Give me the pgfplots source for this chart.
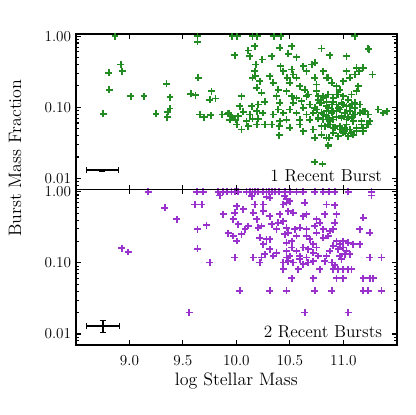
\documentclass[border=0pt]{standalone}
\usepackage{pgfplots}
\usepackage{pgfplotstable}
\pgfplotsset{compat=1.18}

\definecolor{burstgreen}{RGB}{34,139,34}
\definecolor{burstpurple}{RGB}{153,50,204}

% one recent burst: log stellar mass, burst mass fraction
\pgfplotstableread{
x y
8.865 1.0
9.637 1.0
9.961 1.0
10.008 1.0
10.151 1.0
10.195 1.0
10.350 1.0
10.416 1.0
11.108 1.0
9.637 0.833
9.986 0.541
10.111 0.629
10.126 0.524
10.173 0.724
10.242 0.470
10.329 0.524
10.407 0.686
10.485 0.565
10.516 0.724
10.562 0.507
10.796 0.671
10.874 0.541
11.030 0.524
11.232 0.671
11.238 0.650
8.918 0.399
8.933 0.322
8.808 0.305
8.812 0.177
9.014 0.143
9.136 0.143
9.347 0.213
9.379 0.138
9.248 0.081
9.357 0.086
9.354 0.072
9.379 0.096
9.643 0.259
9.572 0.154
9.618 0.148
9.768 0.168
9.752 0.128
9.805 0.133
9.659 0.079
9.699 0.072
9.762 0.077
9.865 0.079
9.927 0.083
9.964 0.071
8.756 0.081
10.182 0.399
10.173 0.322
10.179 0.274
10.151 0.259
10.220 0.233
10.189 0.187
10.235 0.159
10.266 0.119
10.204 0.109
10.142 0.1035
10.189 0.088
10.245 0.083
10.126 0.079
10.064 0.086
10.033 0.1035
10.048 0.143
10.002 0.0571
10.048 0.0485
10.111 0.054
10.189 0.0571
10.266 0.0571
10.204 0.069
10.151 0.069
10.095 0.0636
10.017 0.075
9.955 0.075
9.917 0.081
9.939 0.067
9.992 0.067
10.313 0.274
10.344 0.220
10.391 0.177
10.375 0.143
10.407 0.115
10.391 0.093
10.344 0.079
10.407 0.0636
10.400 0.054
10.329 0.0571
10.400 0.0404
10.413 0.378
10.438 0.322
10.475 0.259
10.516 0.340
10.531 0.289
10.562 0.259
10.625 0.378
10.656 0.322
10.703 0.399
10.734 0.422
10.749 0.209
10.734 0.259
10.812 0.322
10.843 0.259
10.593 0.198
10.640 0.177
10.671 0.151
10.749 0.168
10.812 0.143
10.780 0.115
10.500 0.220
10.469 0.168
10.516 0.143
10.531 0.115
10.562 0.135
10.609 0.122
10.625 0.098
10.656 0.079
10.687 0.067
10.593 0.067
10.562 0.083
10.500 0.093
10.438 0.083
10.469 0.067
10.500 0.0512
10.593 0.0571
10.625 0.0459
10.718 0.0485
10.734 0.037
10.796 0.054
10.765 0.069
10.718 0.083
10.734 0.098
10.687 0.109
10.765 0.128
10.656 0.143
10.858 0.259
10.890 0.220
10.936 0.198
10.967 0.177
10.999 0.233
11.030 0.322
11.061 0.259
11.108 0.289
11.123 0.359
11.148 0.322
11.185 0.359
11.139 0.198
11.123 0.168
11.076 0.151
10.999 0.143
10.936 0.151
10.905 0.119
10.843 0.119
10.858 0.098
10.905 0.088
10.952 0.098
10.999 0.109
11.061 0.1035
11.108 0.115
11.154 0.109
11.185 0.088
11.092 0.079
11.045 0.072
10.983 0.075
10.936 0.072
10.874 0.0636
10.843 0.075
10.812 0.079
10.858 0.0571
10.905 0.0512
10.967 0.054
11.014 0.0459
11.076 0.0435
11.123 0.0512
11.170 0.0571
11.185 0.0459
11.232 0.0571
11.092 0.0636
11.030 0.0571
10.858 0.0292
10.868 0.037
10.734 0.017
10.805 0.0159
11.273 0.289
11.326 0.093
11.373 0.083
11.404 0.088
10.765 0.143
10.812 0.1355
10.859 0.151
10.905 0.1355
10.952 0.151
11.046 0.128
10.796 0.115
10.843 0.1035
10.890 0.109
10.936 0.109
10.983 0.115
11.030 0.1035
11.077 0.109
11.108 0.098
10.750 0.0928
10.796 0.0833
10.843 0.088
10.890 0.0833
10.936 0.088
10.968 0.0928
11.014 0.0833
11.061 0.088
11.108 0.0789
11.155 0.0833
11.201 0.088
11.232 0.0789
10.765 0.0708
10.812 0.0671
10.859 0.0708
10.905 0.0671
10.983 0.0708
11.030 0.0671
11.077 0.0708
11.170 0.0636
11.217 0.0571
11.248 0.0636
10.827 0.0541
10.874 0.0571
10.921 0.0512
10.968 0.0485
11.014 0.0512
11.061 0.0485
11.123 0.0459
11.186 0.0512
10.796 0.0412
10.843 0.037
10.905 0.0435
10.952 0.0391
10.999 0.0435
11.046 0.0391
11.092 0.0412
10.859 0.0288
}\oneburst

% two recent bursts
\pgfplotstableread{
x y
9.176 1.0
9.628 1.0
9.690 1.0
9.830 1.0
9.871 1.0
9.914 1.0
9.955 1.0
9.986 1.0
10.017 1.0
10.095 1.0
10.126 1.0
10.151 1.0
10.176 1.0
10.204 1.0
10.251 1.0
10.282 1.0
10.307 1.0
10.332 1.0
10.360 1.0
10.400 1.0
10.453 1.0
10.500 1.0
10.562 1.0
10.625 1.0
10.734 1.0
10.812 1.0
10.868 1.0
10.921 1.0
11.045 1.0
11.263 1.0
9.846 0.887
10.142 0.868
10.282 0.850
10.313 0.823
10.453 0.868
10.469 0.797
11.263 0.887
9.332 0.596
9.612 0.664
9.675 0.664
10.173 0.664
10.251 0.664
10.002 0.629
10.064 0.565
10.438 0.664
10.469 0.700
10.500 0.740
10.640 0.700
10.843 0.664
10.921 0.643
9.877 0.481
9.986 0.507
10.157 0.507
10.251 0.535
10.313 0.455
10.407 0.481
10.485 0.535
10.531 0.507
10.625 0.455
10.656 0.481
10.749 0.409
10.827 0.481
10.936 0.481
11.185 0.431
9.441 0.409
9.721 0.340
9.637 0.296
9.970 0.409
10.017 0.348
10.111 0.330
10.080 0.296
10.189 0.409
10.204 0.312
10.235 0.330
10.329 0.348
10.391 0.367
10.438 0.387
10.375 0.296
10.469 0.312
10.485 0.266
10.547 0.296
10.593 0.312
10.656 0.296
10.734 0.330
10.780 0.367
10.812 0.296
10.874 0.281
10.921 0.367
10.905 0.296
11.154 0.296
11.248 0.266
9.924 0.260
9.970 0.239
10.002 0.203
10.048 0.252
10.220 0.226
10.282 0.214
10.313 0.214
10.251 0.182
10.453 0.252
10.469 0.192
10.516 0.203
10.562 0.239
10.656 0.239
10.687 0.214
10.749 0.266
10.718 0.182
10.812 0.226
10.858 0.239
10.936 0.203
10.967 0.182
10.999 0.203
11.045 0.192
11.092 0.182
11.154 0.182
8.927 0.160
8.989 0.142
9.637 0.158
10.313 0.155
10.375 0.139
10.469 0.147
10.516 0.164
10.562 0.147
10.625 0.164
10.671 0.155
10.718 0.139
10.749 0.164
10.874 0.147
10.905 0.173
10.952 0.155
10.999 0.164
11.030 0.147
11.061 0.132
9.986 0.119
10.157 0.119
10.235 0.119
10.266 0.132
10.344 0.125
10.469 0.119
10.500 0.125
10.593 0.125
10.656 0.119
10.765 0.125
10.843 0.125
10.967 0.125
11.014 0.132
11.248 0.119
11.357 0.119
9.752 0.101
10.220 0.101
10.438 0.101
10.485 0.106
10.531 0.101
10.593 0.112
10.625 0.0955
10.671 0.101
10.718 0.106
10.827 0.106
10.890 0.101
10.921 0.0925
10.905 0.0813
10.952 0.0813
10.999 0.0813
11.045 0.0813
11.076 0.0813
10.983 0.112
10.438 0.0813
10.578 0.0813
10.780 0.0813
10.516 0.0608
10.718 0.0608
10.936 0.0608
10.999 0.0608
11.185 0.0608
11.248 0.0608
11.279 0.0608
10.033 0.0404
10.313 0.0404
10.469 0.0404
10.734 0.0404
10.890 0.0404
11.185 0.0404
11.232 0.0404
11.357 0.0404
9.559 0.0201
10.640 0.0201
11.045 0.0201
}\twobursts

\begin{document}
\begin{tikzpicture}
\path[use as bounding box] (-54.9pt,-50.6pt) rectangle (245.1pt,249.4pt);

% lower panel
\begin{axis}[
    at={(0pt,0pt)}, anchor=south west,
    width=232pt, height=112.5pt, scale only axis,
    xmin=8.5, xmax=11.5,
    ymode=log, ymin=0.007, ymax=1.08,
    xtick={9,9.5,10,10.5,11},
    xticklabels={9.0,9.5,10.0,10.5,11.0},
    ytick={0.01,0.1,1}, yticklabels={0.01,0.10,1.00},
    minor ytick={0.007,0.008,0.009,0.02,0.03,0.04,0.05,0.06,0.07,0.08,0.09,0.2,0.3,0.4,0.5,0.6,0.7,0.8,0.9},
    tick align=inside,
    axis line style={line width=1.1pt},
    tick style={black, line width=0.8pt},
    major tick length=3.5pt, minor tick length=2pt,
    tick label style={font=\fontsize{11}{13}\selectfont},
    xticklabel style={yshift=-4pt},
    xlabel={log Stellar Mass},
    xlabel style={font=\fontsize{13}{15}\selectfont, at={(axis description cs:0.5,0)}, anchor=base, yshift=-29pt},
]
\addplot[only marks, mark=+, mark size=2.5pt, color=burstpurple, mark options={line width=1.3pt}] table[x=x, y=y] {\twobursts};
\addplot[black, line width=1.5pt, mark=none, mark size=2.2pt,
    error bars/.cd, x dir=both, x explicit, y dir=both, y explicit,
    error bar style={line width=1.5pt}]
  coordinates {(8.75,0.0128) += (0.152,0.0026) -= (0.152,0.0022)};
\node[anchor=base east, font=\fontsize{12.5}{14}\selectfont] at (rel axis cs:0.969,0.05) {2 Recent Bursts};
\end{axis}

% upper panel
\begin{axis}[
    at={(0pt,112.5pt)}, anchor=south west,
    width=232pt, height=112.5pt, scale only axis,
    xmin=8.5, xmax=11.5,
    ymode=log, ymin=0.007, ymax=1.08,
    xtick={9,9.5,10,10.5,11},
    xticklabels={},
    ytick={0.01,0.1,1}, yticklabels={0.01,0.10,1.00},
    minor ytick={0.007,0.008,0.009,0.02,0.03,0.04,0.05,0.06,0.07,0.08,0.09,0.2,0.3,0.4,0.5,0.6,0.7,0.8,0.9},
    tick align=inside,
    axis line style={line width=1.1pt},
    tick style={black, line width=0.8pt},
    major tick length=3.5pt, minor tick length=2pt,
    tick label style={font=\fontsize{11}{13}\selectfont},
]
\addplot[only marks, mark=+, mark size=2.5pt, color=burstgreen, mark options={line width=1.3pt}] table[x=x, y=y] {\oneburst};
\addplot[black, line width=1.5pt, mark=none, mark size=2.2pt,
    error bars/.cd, x dir=both, x explicit, y dir=both, y explicit,
    error bar style={line width=1.5pt}]
  coordinates {(8.746,0.013) +- (0.152,0.0006)};
\node[anchor=base east, font=\fontsize{12.5}{14}\selectfont] at (rel axis cs:0.969,0.049) {1 Recent Burst};
\end{axis}

\node[rotate=90, font=\fontsize{13}{15}\selectfont] at (-44pt,135pt) {Burst Mass Fraction};
\end{tikzpicture}
\end{document}
